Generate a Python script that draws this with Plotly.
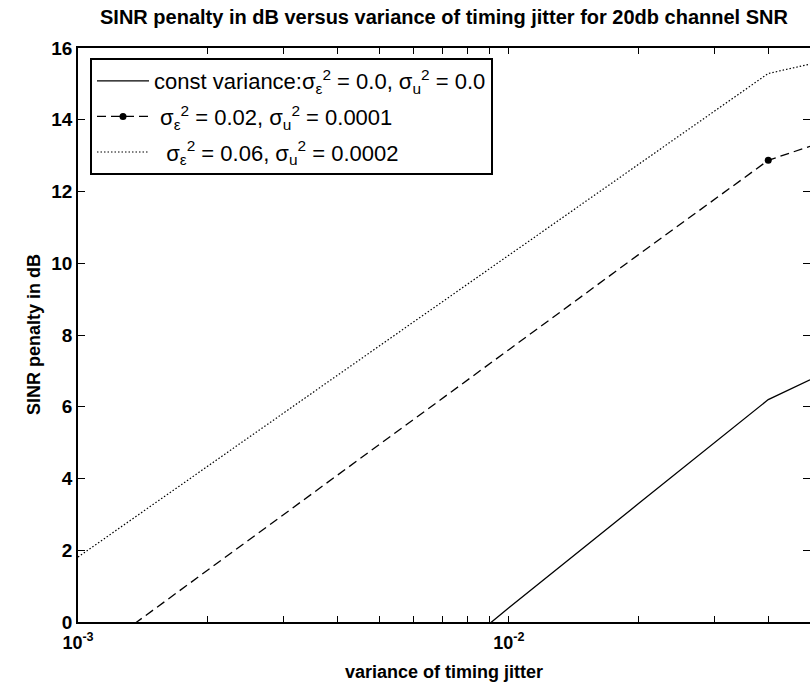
import plotly.graph_objects as go

# timing-jitter variance samples (log x axis)
jitter_var = [0.001, 0.002, 0.005, 0.01, 0.02, 0.03, 0.04, 0.05]

# SINR penalty (dB) for each residual-error setting
penalty_const = [-9.2, -6.3, -2.6, 0.4, 3.3, 5.0, 6.2, 6.75]
penalty_02 = [-1.2, 1.44, 4.94, 7.59, 10.24, 11.78, 12.87, 13.26]
penalty_06 = [1.81, 4.34, 7.69, 10.22, 12.75, 14.23, 15.29, 15.55]

# axis ticks
x_tickvals = [0.001, 0.002, 0.003, 0.004, 0.005, 0.006, 0.007, 0.008, 0.009,
              0.01, 0.02, 0.03, 0.04, 0.05]
x_ticktext = ["10<sup>-3</sup>", "", "", "", "", "", "", "", "",
              "10<sup>-2</sup>", "", "", "", ""]
y_tickvals = [0, 2, 4, 6, 8, 10, 12, 14, 16]

legend_names = [
    "const variance:σ<sub>ε</sub><sup>2</sup> = 0.0, σ<sub>u</sub><sup>2</sup> = 0.0",
    "\u00a0σ<sub>ε</sub><sup>2</sup> = 0.02, σ<sub>u</sub><sup>2</sup> = 0.0001",
    "\u00a0\u00a0σ<sub>ε</sub><sup>2</sup> = 0.06, σ<sub>u</sub><sup>2</sup> = 0.0002",
]

FONT = "Arial, Liberation Sans, sans-serif"
BLACK = "#000000"
PLOT_L, PLOT_W = 78, 732

fig = go.Figure()

fig.add_trace(go.Scatter(
    x=jitter_var, y=penalty_const, mode="lines", name=legend_names[0],
    legendgroup="g0", line=dict(color=BLACK, width=1.3),
))

# dot marker shown only at the 0.04 sample (first sample lies below the axis)
marker_colors = [BLACK if v in (0.001, 0.04) else "rgba(0,0,0,0)" for v in jitter_var]
fig.add_trace(go.Scatter(
    x=jitter_var, y=penalty_02, mode="lines+markers", name=legend_names[1],
    legendgroup="g1", line=dict(color=BLACK, width=1.3, dash="9px,5px"),
    marker=dict(color=marker_colors, size=7, symbol="circle"),
))

fig.add_trace(go.Scatter(
    x=jitter_var, y=penalty_06, mode="lines", name=legend_names[2],
    legendgroup="g2", line=dict(color=BLACK, width=1.2, dash="1.5px,2px"),
))

# right-hand tick marks (no axis line)
fig.add_trace(go.Scatter(x=[], y=[], yaxis="y2", showlegend=False))

fig.update_layout(
    width=810, height=690,
    margin=dict(l=PLOT_L, r=0, t=48, b=68),
    paper_bgcolor="white", plot_bgcolor="white",
    font=dict(family=FONT, size=18, color=BLACK, weight="bold"),
    title=dict(
        text="SINR penalty in dB versus variance of timing jitter for 20db channel SNR",
        x=0.5, xref="paper", xanchor="center",
        y=1 - 17 / 690, yref="container", yanchor="middle",
        font=dict(family=FONT, size=20, color=BLACK, weight="bold"),
    ),
    xaxis=dict(
        type="log", range=[-3, -1.30103],
        tickvals=x_tickvals, ticktext=x_ticktext,
        ticks="inside", ticklen=6, tickwidth=1.3, tickcolor=BLACK,
        showline=True, linecolor=BLACK, linewidth=1.8, mirror="ticks",
        showgrid=False, zeroline=False, ticklabelstandoff=3,
        tickfont=dict(family=FONT, size=18, color=BLACK, weight="bold"),
        title=dict(text="variance of timing jitter", standoff=14,
                   font=dict(family=FONT, size=18, color=BLACK, weight="bold")),
    ),
    yaxis=dict(
        range=[0, 16], tickvals=y_tickvals,
        ticks="inside", ticklen=7, tickwidth=1.3, tickcolor=BLACK,
        showline=True, linecolor=BLACK, linewidth=1.8, mirror=False,
        showgrid=False, zeroline=False, ticklabelstandoff=0,
        tickfont=dict(family=FONT, size=19, color=BLACK, weight="bold"),
    ),
    yaxis2=dict(
        range=[0, 16], tickvals=y_tickvals, overlaying="y", side="right",
        ticks="inside", ticklen=7, tickwidth=1.3, tickcolor=BLACK,
        showticklabels=False, showline=False, showgrid=False, zeroline=False,
    ),
    legend=dict(
        x=(90 - PLOT_L) / PLOT_W, y=(622 - 58) / 574, xanchor="left", yanchor="top",
        bgcolor="white", bordercolor=BLACK, borderwidth=2,
        font=dict(family=FONT, size=22, color=BLACK, weight="normal"),
        tracegroupgap=4, itemwidth=52, traceorder="grouped",
    ),
    annotations=[dict(
        text="SINR penalty in dB", textangle=-90, showarrow=False,
        xref="paper", x=(34 - PLOT_L) / PLOT_W, xanchor="center",
        yref="paper", y=0.5, yanchor="middle",
        font=dict(family=FONT, size=18, color=BLACK, weight="bold"),
    )],
)

fig.write_html("out.html")
